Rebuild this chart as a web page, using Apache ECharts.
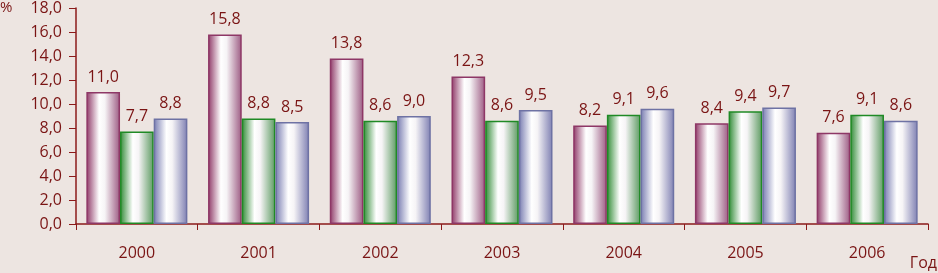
<!DOCTYPE html>
<html><head><meta charset="utf-8">
<script src="https://cdn.jsdelivr.net/npm/echarts@6/dist/echarts.min.js"></script>
<style>html,body{margin:0;padding:0;background:#ede5e1;}#c{width:938px;height:273px;}</style>
</head><body><div id="c"></div>
<script>
const categories = ['2000','2001','2002','2003','2004','2005','2006'];
const series1 = [11.0, 15.8, 13.8, 12.3, 8.2, 8.4, 7.6];
const series2 = [7.7, 8.8, 8.6, 8.6, 9.1, 9.4, 9.1];
const series3 = [8.8, 8.5, 9.0, 9.5, 9.6, 9.7, 8.6];
const yTicks = [0,2,4,6,8,10,12,14,16,18];

const fmt = v => v.toFixed(1).replace('.', ',');
const font = '"Open Sans", "Noto Sans", sans-serif';
const textColor = '#7a1414';
function grad(edge, edge2){
  return new echarts.graphic.LinearGradient(0,0,1,0,[
    {offset:0,color:edge},{offset:0.38,color:'#ffffff'},{offset:0.55,color:'#f6f4f6'},{offset:1,color:edge2}
  ]);
}
function mk(data, edge, edge2, border){
  return {type:'bar', data, barGap:'0%', barCategoryGap:'17%',
    itemStyle:{color:grad(edge,edge2), borderColor:border, borderWidth:1.5},
    label:{show:true, position:'top', distance:7, formatter:p=>fmt(p.value), color:textColor, fontFamily:font, fontSize:16}
  };
}
const chart = echarts.init(document.getElementById('c'));
chart.setOption({
  backgroundColor:'#ede5e1',
  animation:false,
  grid:{left:76, right:10, top:8, bottom:49, containLabel:false},
  graphic:[
    {type:'text', left:0, top:0, style:{text:'%', fill:textColor, font:'15px '+font}},
    {type:'text', right:1, bottom:2, style:{text:'Год', fill:textColor, font:'16px '+font}}
  ],
  xAxis:{type:'category', data:categories,
    axisLine:{lineStyle:{color:'#8b1a1a', width:1.5}},
    axisTick:{show:true, alignWithLabel:false, length:6, lineStyle:{color:'#8b1a1a'}},
    axisLabel:{color:textColor, fontFamily:font, fontSize:16, margin:21}},
  yAxis:{type:'value', min:0, max:18, interval:2,
    axisLine:{show:true, lineStyle:{color:'#8b1a1a', width:1.5}},
    axisTick:{show:true, length:7, lineStyle:{color:'#8b1a1a'}},
    splitLine:{show:false},
    axisLabel:{color:textColor, fontFamily:font, fontSize:16, margin:14, formatter:v=>yTicks.includes(v)?fmt(v):''}},
  series:[
    mk(series1,'#8e3766','#9c5a82','#8e3766'),
    mk(series2,'#2f8a34','#5b9a60','#1f8a25'),
    mk(series3,'#777bb0','#7e7fb2','#6e72a4')
  ]
});
</script></body></html>
